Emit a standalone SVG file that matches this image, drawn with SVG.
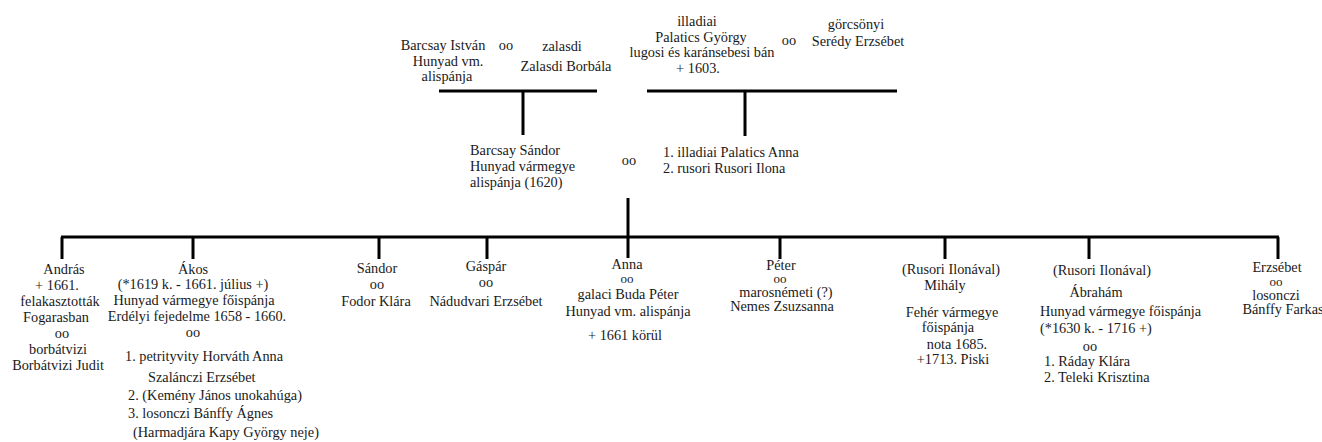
<svg xmlns="http://www.w3.org/2000/svg" width="1322" height="442" viewBox="0 0 1322 442">
<style>
text{font-family:"Liberation Serif","Times New Roman",serif;font-size:14.3px;fill:#1a1a1a}
.m{text-anchor:middle}
.s{text-anchor:start}
.t{font-size:13px}
.ln{stroke:#000;stroke-width:3;fill:none}
</style>
<rect width="1322" height="442" fill="#fff"/>
<g id="connectors" class="ln">
<path d="M439,91H597M523,91V135"/>
<path d="M647,91H897M745,91V136"/>
<path d="M628,198V237"/>
<path d="M61,237H1279"/>
<path d="M62,237V259M193,237V259M379,237V259M487,237V259M628,237V258M780,237V259M945,237V259M1089,237V259M1278,237V259"/>
</g>
<g id="barcsay-istvan">
<text class="m" x="443" y="50">Barcsay István</text>
<text class="m" x="448" y="66">Hunyad vm.</text>
<text class="m" x="447" y="81">alispánja</text>
</g>
<g id="couple1-oo"><text class="m" x="506" y="50">oo</text></g>
<g id="zalasdi-borbala">
<text class="m" x="562" y="51">zalasdi</text>
<text class="m" x="566" y="71">Zalasdi Borbála</text>
</g>
<g id="palatics-gyorgy">
<text class="m" x="697" y="26">illadiai</text>
<text class="m" x="701" y="42">Palatics György</text>
<text class="m" x="702" y="57">lugosi és karánsebesi bán</text>
<text class="m" x="698" y="73">+ 1603.</text>
</g>
<g id="couple2-oo"><text class="m" x="789" y="45">oo</text></g>
<g id="seredy-erzsebet">
<text class="m" x="856" y="29">görcsönyi</text>
<text class="m" x="858" y="46">Serédy Erzsébet</text>
</g>
<g id="barcsay-sandor">
<text class="s" x="470" y="155">Barcsay Sándor</text>
<text class="s" x="470" y="171">Hunyad vármegye</text>
<text class="s" x="470" y="187">alispánja (1620)</text>
</g>
<g id="couple3-oo"><text class="m" x="629" y="165">oo</text></g>
<g id="wives">
<text class="s" x="663" y="157">1. illadiai Palatics Anna</text>
<text class="s" x="663" y="173">2. rusori Rusori Ilona</text>
</g>
<g id="andras">
<text class="m" x="64" y="274">András</text>
<text class="m" x="57" y="290">+ 1661.</text>
<text class="m" x="60" y="306">felakasztották</text>
<text class="m" x="56" y="322">Fogarasban</text>
<text class="m" x="62" y="338">oo</text>
<text class="m" x="58" y="354">borbátvizi</text>
<text class="m" x="58" y="370">Borbátvizi Judit</text>
</g>
<g id="akos">
<text class="m" x="193" y="274">Ákos</text>
<text class="m" x="193" y="289">(*1619 k. - 1661. július +)</text>
<text class="m" x="194" y="305">Hunyad vármegye főispánja</text>
<text class="m" x="197" y="321">Erdélyi fejedelme 1658 - 1660.</text>
<text class="m" x="193" y="337">oo</text>
<text class="s" x="125" y="361">1. petrityvity Horváth Anna</text>
<text class="s" x="148" y="382">Szalánczi Erzsébet</text>
<text class="s" x="128" y="400">2. (Kemény János unokahúga)</text>
<text class="s" x="128" y="418">3. losonczi Bánffy Ágnes</text>
<text class="s" x="133" y="437">(Harmadjára Kapy György neje)</text>
</g>
<g id="sandor">
<text class="m" x="377" y="273">Sándor</text>
<text class="m" x="377" y="289">oo</text>
<text class="m" x="376" y="306">Fodor Klára</text>
</g>
<g id="gaspar">
<text class="m" x="486" y="271">Gáspár</text>
<text class="m" x="486" y="287">oo</text>
<text class="m" x="486" y="306">Nádudvari Erzsébet</text>
</g>
<g id="anna">
<text class="m" x="627" y="269">Anna</text>
<text class="m t" x="627" y="283">oo</text>
<text class="m" x="628" y="299">galaci Buda Péter</text>
<text class="m" x="628" y="316">Hunyad vm. alispánja</text>
<text class="m" x="625" y="340">+ 1661 körül</text>
</g>
<g id="peter">
<text class="m" x="781" y="270">Péter</text>
<text class="m t" x="780" y="283">oo</text>
<text class="m" x="786" y="297">marosnémeti (?)</text>
<text class="m" x="782" y="311">Nemes Zsuzsanna</text>
</g>
<g id="mihaly">
<text class="m" x="951" y="274">(Rusori Ilonával)</text>
<text class="m" x="945" y="290">Mihály</text>
<text class="m" x="952" y="317">Fehér vármegye</text>
<text class="m" x="948" y="332">főispánja</text>
<text class="m" x="957" y="349">nota 1685.</text>
<text class="m" x="953" y="364">+1713. Piski</text>
</g>
<g id="abraham">
<text class="m" x="1102" y="275">(Rusori Ilonával)</text>
<text class="m" x="1096" y="297">Ábrahám</text>
<text class="s" x="1040" y="316">Hunyad vármegye főispánja</text>
<text class="s" x="1040" y="333">(*1630 k. - 1716 +)</text>
<text class="m" x="1090" y="351">oo</text>
<text class="s" x="1044" y="366">1. Ráday Klára</text>
<text class="s" x="1044" y="382">2. Teleki Krisztina</text>
</g>
<g id="erzsebet">
<text class="m" x="1277" y="272">Erzsébet</text>
<text class="m t" x="1276" y="286">oo</text>
<text class="m" x="1276" y="300">losonczi</text>
<text class="m" x="1283" y="314">Bánffy Farkas</text>
</g>
</svg>
